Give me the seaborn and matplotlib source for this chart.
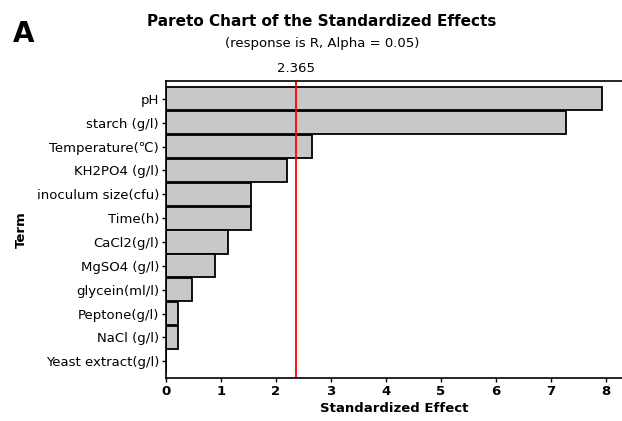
import pandas as pd
import matplotlib.pyplot as plt
import seaborn as sns

# values
terms = ['pH', 'starch (g/l)', 'Temperature(\u2103)', 'KH2PO4 (g/l)',
         'inoculum size(cfu)', 'Time(h)', 'CaCl2(g/l)', 'MgSO4 (g/l)',
         'glycein(ml/l)', 'Peptone(g/l)', 'NaCl (g/l)', 'Yeast extract(g/l)']
effects = [7.94, 7.28, 2.65, 2.21, 1.54, 1.54, 1.12, 0.89, 0.47, 0.22, 0.22, 0.0]
critical = 2.365

df = pd.DataFrame({'Term': terms, 'Effect': effects})

sns.set_style('ticks')
plt.rcParams['font.family'] = ['DejaVu Sans', 'Noto Sans CJK SC']
plt.rcParams['text.color'] = 'black'
plt.rcParams['axes.labelcolor'] = 'black'
plt.rcParams['xtick.color'] = 'black'
plt.rcParams['ytick.color'] = 'black'
plt.rcParams['axes.edgecolor'] = 'black'

fig = plt.figure(figsize=(6.22, 4.21), dpi=100)
ax = fig.add_axes([166 / 622, 1 - 378 / 421, 456 / 622, 297 / 421])

sns.barplot(data=df, x='Effect', y='Term', orient='h', color='#c8c8c8',
            edgecolor='black', linewidth=1.3, width=0.97, saturation=1, ax=ax)

ax.axvline(critical, color='red', lw=1.3)
ax.text(critical, 1.02, f'{critical}', transform=ax.get_xaxis_transform(),
        ha='center', va='bottom', fontsize=9.5)

ax.set_xlim(0, 8.3)
ax.set_ylim(len(terms) - 0.3, -0.75)
ax.set_xticks(range(0, 9))
ax.tick_params(axis='both', labelsize=9.5, length=3, width=1, pad=2)
for lbl in ax.get_xticklabels():
    lbl.set_fontweight('bold')
ax.spines['right'].set_visible(False)
for s in ['left', 'bottom', 'top']:
    ax.spines[s].set_linewidth(1.2)

ax.set_xlabel('Standardized Effect', fontsize=9.5, fontweight='bold', labelpad=3)
ax.set_ylabel('Term', fontsize=9.5, fontweight='bold', labelpad=6)

fig.text(322 / 622, 1 - 22 / 421, 'Pareto Chart of the Standardized Effects',
         ha='center', va='center', fontsize=11, fontweight='bold')
fig.text(322 / 622, 1 - 43 / 421, '(response is R, Alpha = 0.05)',
         ha='center', va='center', fontsize=9.5)
fig.text(24 / 622, 1 - 34 / 421, 'A', ha='center', va='center',
         fontsize=20, fontweight='bold')

plt.savefig('out.png', dpi=100)
